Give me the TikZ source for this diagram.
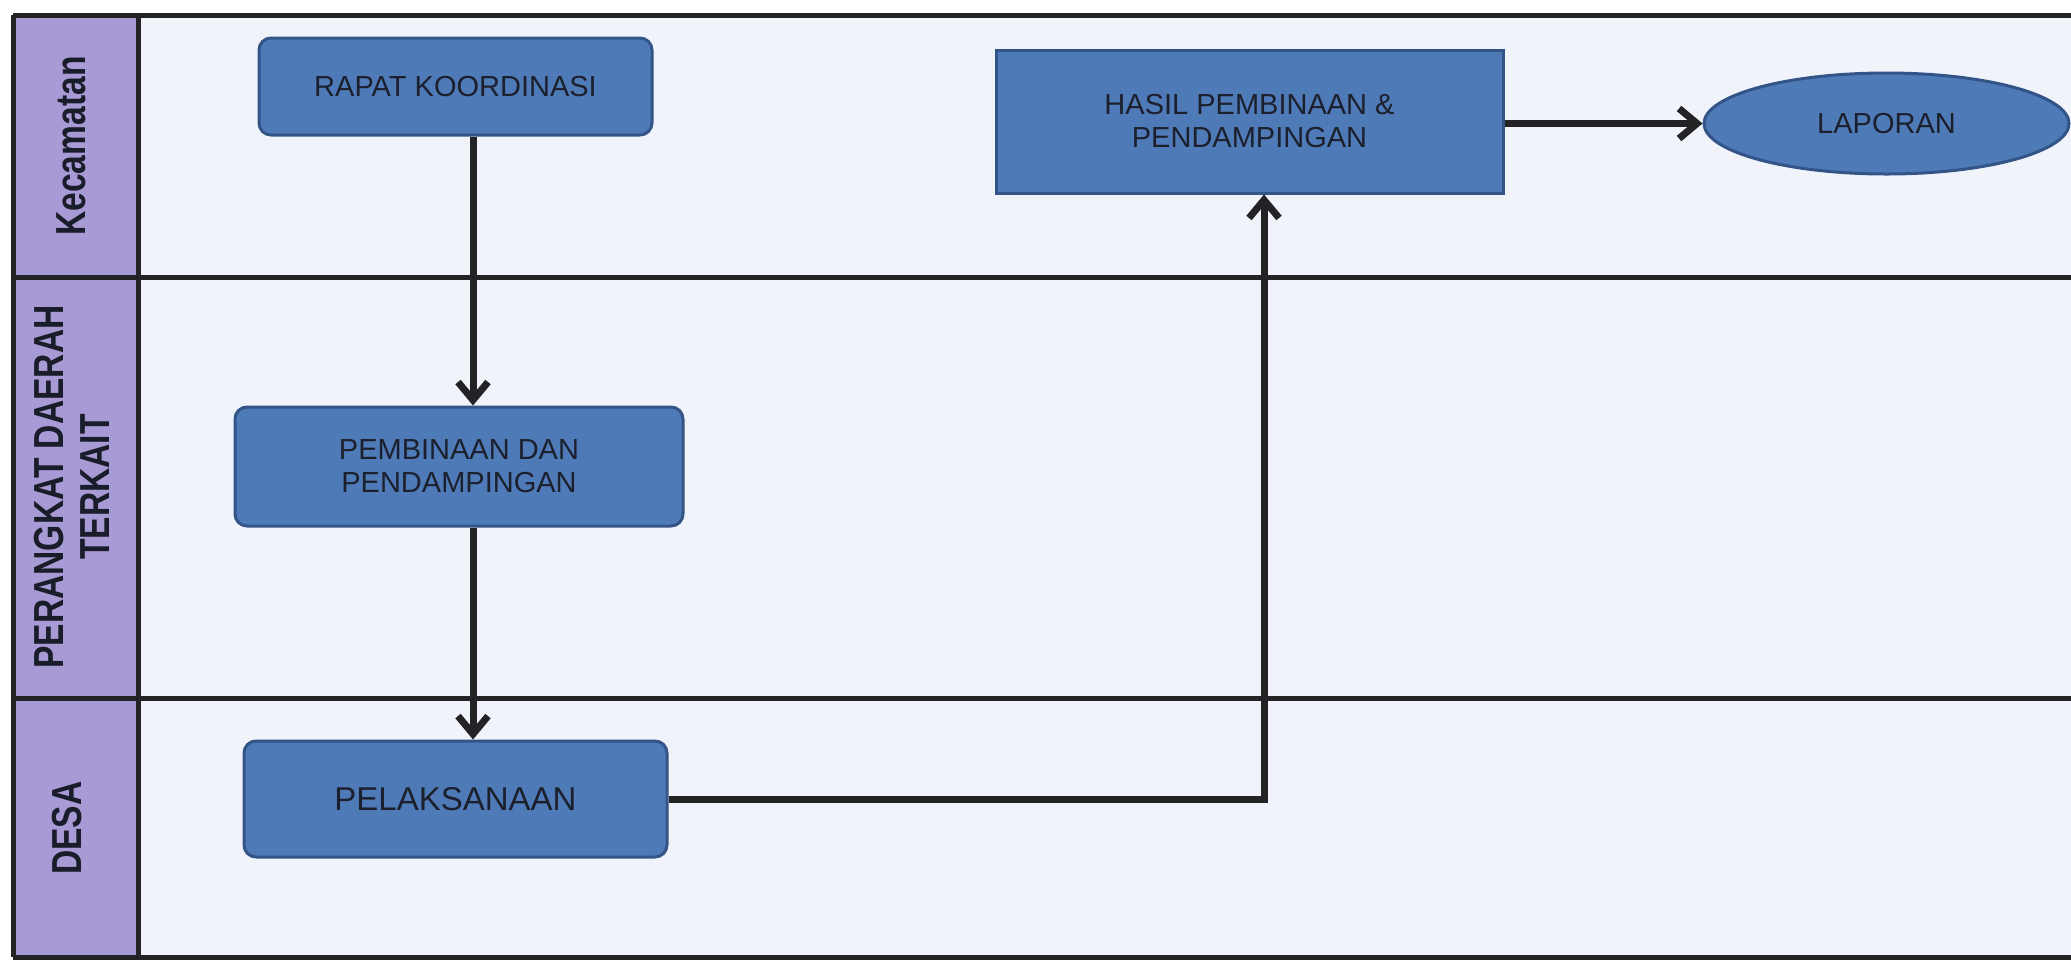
\documentclass[tikz,border=0pt]{standalone}
\usepackage{fontspec}
\setmainfont{Liberation Sans}
\usetikzlibrary{arrows.meta,shapes.geometric}
\definecolor{boxblue}{RGB}{79,122,184}
\definecolor{boxedge}{RGB}{50,84,135}
\definecolor{lanepurple}{RGB}{168,154,213}
\definecolor{paper}{RGB}{241,243,250}
\definecolor{ink}{RGB}{28,32,45}
\definecolor{rulecol}{RGB}{35,35,38}
\newcommand{\lanetext}[1]{\scalebox{0.8}[1]{\begin{tabular}{@{}c@{}}#1\end{tabular}}}
\begin{document}
\begin{tikzpicture}[x=0.5pt,y=-0.5pt,
  procbox/.style={draw=boxedge, line width=1.5pt, fill=boxblue, rounded corners=6pt,
    text=ink, font=\fontsize{14.5}{16.5}\selectfont, align=center, inner sep=0pt},
  sharpbox/.style={procbox, rounded corners=0pt},
  endoval/.style={procbox, ellipse, rounded corners=0pt},
  lanelabel/.style={rotate=90, inner sep=0pt, text=ink!90!black,
    font=\fontsize{21}{23}\selectfont\bfseries},
  laneline/.style={draw=rulecol, line width=2.5pt},
  arr/.style={draw=rulecol, line width=3.5pt, -{Straight Barb[length=9pt,width=15pt]}}
]
\useasboundingbox (0,0) rectangle (2071,960);
\fill[white] (0,0) rectangle (2071,960);
% lanes
\fill[paper] (138,15) rectangle (2071,957);
\fill[lanepurple] (13,15) rectangle (138,957);
\draw[laneline] (13,15) -- (2071,15);
\draw[laneline] (13,277) -- (2071,277);
\draw[laneline] (13,698) -- (2071,698);
\draw[laneline] (13,957) -- (2071,957);
\draw[laneline] (13,15) -- (13,957);
\draw[laneline] (138,15) -- (138,957);
% lane labels
\node[lanelabel] (lkec) at (76,146) {\lanetext{Kecamatan}};
\node[lanelabel] (lper) at (77,487) {\lanetext{PERANGKAT DAERAH\\TERKAIT}};
\node[lanelabel] (ldes) at (72,828) {\lanetext{DESA}};
% process nodes
\node[procbox, minimum width=196.5pt, minimum height=48.5pt] (rapat) at (455.5,86.5) {RAPAT KOORDINASI};
\node[procbox, minimum width=224pt, minimum height=59.5pt] (pemb) at (459,466.5) {PEMBINAAN DAN\\PENDAMPINGAN};
\node[procbox, minimum width=211.5pt, minimum height=58pt, font=\fontsize{16.5}{19}\selectfont] (pel) at (455.5,799) {PELAKSANAAN};
\node[sharpbox, minimum width=253.5pt, minimum height=71.5pt] (hasil) at (1249.5,121.5) {HASIL PEMBINAAN \&\\PENDAMPINGAN};
\node[endoval, minimum width=182.5pt, minimum height=50.5pt] (lap) at (1886.5,123.5) {LAPORAN};
% connector columns
\coordinate (xa) at (473,0);
\coordinate (xb) at (1264,0);
% connectors
\draw[arr] (rapat.south -| xa) -- (pemb.north -| xa);
\draw[arr] (pemb.south -| xa) -- (pel.north -| xa);
\draw[arr] (pel.east) -| (hasil.south -| xb);
\draw[arr] (hasil.east |- lap.west) -- (lap.west);
\end{tikzpicture}
\end{document}
